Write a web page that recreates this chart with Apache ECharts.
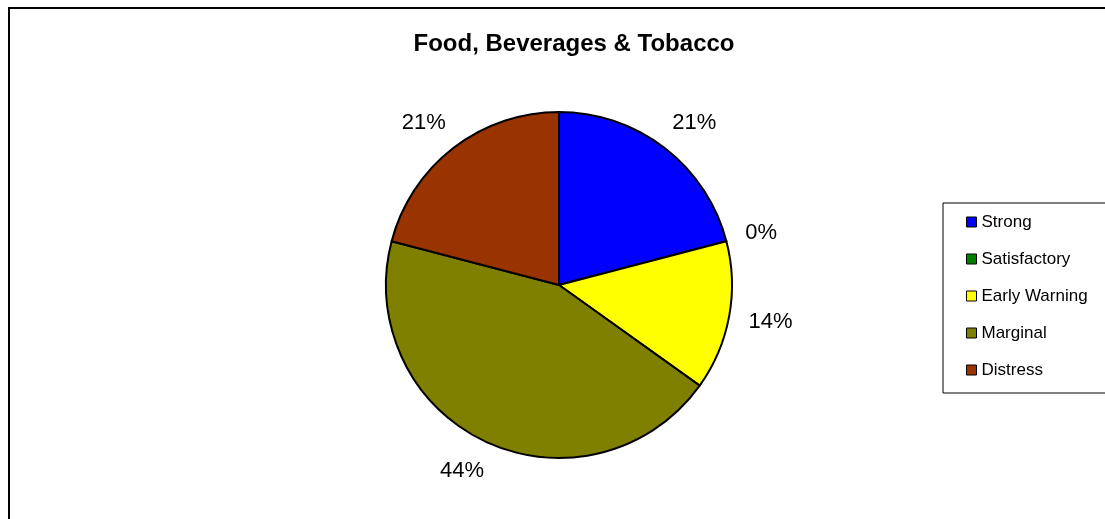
<!DOCTYPE html>
<html>
<head>
<meta charset="utf-8">
<script src="https://cdn.jsdelivr.net/npm/echarts@6/dist/echarts.min.js"></script>
<style>
    html, body { margin: 0; padding: 0; background: #fff; }
    #chart { width: 1105px; height: 519px; }
</style>
</head>
<body>
<div id="chart"></div>
<script>
// 数据
const categories = ['Strong', 'Satisfactory', 'Early Warning', 'Marginal', 'Distress'];
const values = [9, 0, 6, 19, 9];
const colors = ['#0000ff', '#008000', '#ffff00', '#808000', '#993300'];

renderPieChart();

function renderPieChart() {
    let chart = echarts.init(document.getElementById('chart'));

    let pieData = [];
    for (let i = 0; i < categories.length; i++) {
        pieData.push({ name: categories[i], value: values[i], itemStyle: { color: colors[i] } });
    }

    let option = {
        animation: false,
        backgroundColor: '#fff',
        textStyle: { fontFamily: 'Liberation Sans, Arial, sans-serif' },
        title: {
            text: 'Food, Beverages & Tobacco',
            left: 569,
            top: 27,
            textAlign: 'center',
            textStyle: { fontSize: 24, fontWeight: 'bold', color: '#000', fontFamily: 'Liberation Sans, Arial, sans-serif' }
        },
        // 外框
        graphic: [{
            type: 'rect',
            shape: { x: 9, y: 8, width: 1300, height: 700 },
            style: { fill: 'none', stroke: '#000', lineWidth: 2 },
            z: -1
        }],
        legend: {
            orient: 'vertical',
            left: 943,
            top: 203,
            padding: [10, 60, 14, 23],
            backgroundColor: '#fff',
            borderColor: '#000',
            borderWidth: 1,
            itemWidth: 10,
            itemHeight: 10,
            itemGap: 19,
            icon: 'rect',
            itemStyle: { borderColor: '#000', borderWidth: 1 },
            textStyle: { fontSize: 17, lineHeight: 18, color: '#000' },
            data: categories
        },
        series: [{
            type: 'pie',
            center: [559, 285],
            radius: 173,
            startAngle: 90,
            clockwise: true,
            avoidLabelOverlap: false,
            itemStyle: { borderColor: '#000', borderWidth: 2 },
            label: {
                show: true,
                position: 'outside',
                formatter: function (p) { return Math.round(p.percent) + '%'; },
                fontSize: 22,
                color: '#000',
                distanceToLabelLine: -12
            },
            labelLine: { show: false, length: 32, length2: 0 },
            emphasis: { disabled: true },
            data: pieData
        }]
    };

    chart.setOption(option);
}
</script>
</body>
</html>
